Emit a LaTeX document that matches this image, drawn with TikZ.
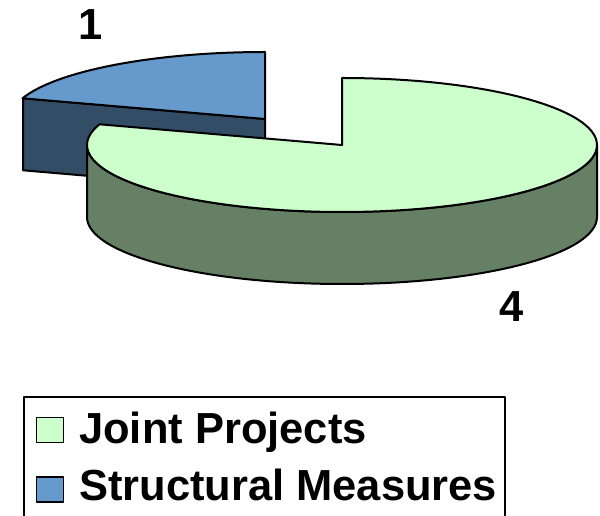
\documentclass[tikz,border=0pt]{standalone}
\usepackage{fontspec}
\setmainfont{Liberation Sans}
\definecolor{jointtop}{RGB}{204,255,204}
\definecolor{jointside}{RGB}{102,128,102}
\definecolor{structtop}{RGB}{102,153,204}
\definecolor{structside}{RGB}{51,77,102}

\begin{document}
\begin{tikzpicture}[x=0.75pt, y=0.75pt, line join=round,
    rim/.style={draw=black, line width=1.5pt},
    keybox/.style={draw=black, line width=1.2pt, minimum width=20pt, minimum height=19pt, inner sep=0pt},
    bigtext/.style={font=\bfseries\fontsize{32.6}{38}\selectfont, inner sep=0pt}]
                \useasboundingbox (0,0) rectangle (600,-516);

                % Structural Measures slice (pulled out)
                \filldraw[rim, fill=structside] (265,-119) -- (23,-98.3) -- (23,-170.3) -- (265,-191) -- cycle;
                \filldraw[rim, fill=structtop] (265,-119) -- (265,-52)
                    arc[start angle=90, end angle=162, x radius=255, y radius=67] -- cycle;

                % Joint Projects slice
                \filldraw[rim, fill=jointside] (87,-145)
                    arc[start angle=180, end angle=360, x radius=255, y radius=67] -- ++(0,-72)
                    arc[start angle=360, end angle=180, x radius=255, y radius=67] -- cycle;
                \filldraw[rim, fill=jointtop] (342,-145) -- (342,-78)
                    arc[start angle=90, end angle=-198, x radius=255, y radius=67] -- cycle;

                % Values
                \node[bigtext] (val1) at (91,-25) {1};
                \node[bigtext] (val4) at (512,-307) {4};

                % Legend
                \draw[line width=1.2pt] (24,-520) -- (24,-397) -- (505,-397) -- (505,-520);
                \node[keybox, fill=jointtop] (keyjoint) at (50,-430) {};
                \node[keybox, fill=structtop] (keystruct) at (50,-489.5) {};
                \node[bigtext, anchor=base west] (txtjoint) at (79,-444) {Joint Projects};
                \node[bigtext, anchor=base west] (txtstruct) at (79,-501) {Structural Measures};
            \end{tikzpicture}
\end{document}
